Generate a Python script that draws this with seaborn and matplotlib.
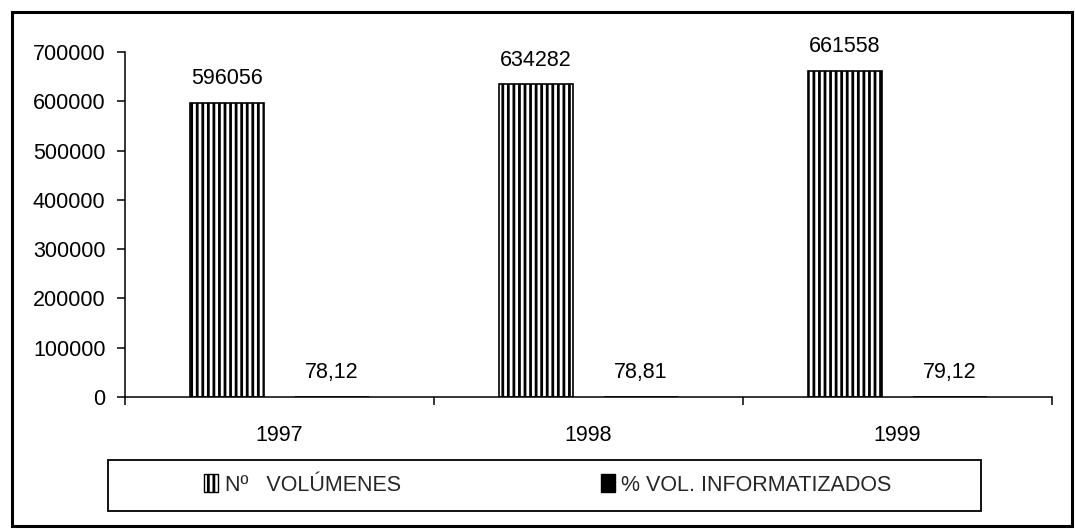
import pandas as pd
import matplotlib
matplotlib.use('Agg')
import matplotlib.pyplot as plt
import seaborn as sns
from matplotlib.patches import Patch, Rectangle

years = ['1997', '1998', '1999']
volumenes = [596056, 634282, 661558]
pct_informatizados = [78.12, 78.81, 79.12]
series_names = ['Nº   VOLÚMENES', '% VOL. INFORMATIZADOS']
y_ticks = [0, 100000, 200000, 300000, 400000, 500000, 600000, 700000]

df = pd.DataFrame({
    'year': years * 2,
    'value': volumenes + pct_informatizados,
    'series': [series_names[0]] * 3 + [series_names[1]] * 3,
})

sns.set_theme(style='white')
plt.rcParams['font.family'] = ['Liberation Sans', 'DejaVu Sans']
plt.rcParams['hatch.linewidth'] = 2.0
plt.rcParams['hatch.color'] = 'black'

FS = 15.5

fig = plt.figure(figsize=(10.76, 5.29), dpi=100)
ax = fig.add_axes([0.1162, 0.2495, 0.8615, 0.6522])

sns.barplot(data=df, x='year', y='value', hue='series', order=years,
            hue_order=series_names, palette=['white', 'black'],
            edgecolor='black', linewidth=1.2, width=0.68, gap=0.3,
            legend=False, ax=ax)

for p in ax.containers[0]:
    p.set_hatch('|||')

ax.bar_label(ax.containers[0], labels=[str(v) for v in volumenes],
             padding=10, fontsize=FS, color='black')
ax.bar_label(ax.containers[1],
             labels=[f'{v:.2f}'.replace('.', ',') for v in pct_informatizados],
             padding=10, fontsize=FS, color='black')

ax.set_ylim(0, 700000)
ax.set_xlim(-0.5, 2.5)
ax.set_yticks(y_ticks)
ax.set_yticklabels([str(t) for t in y_ticks])
ax.set_xlabel('')
ax.set_ylabel('')

ax.set_xticks([-0.5, 0.5, 1.5, 2.5], minor=True)
ax.tick_params(axis='x', which='major', length=0, pad=20, labelsize=FS, colors='black')
ax.tick_params(axis='x', which='minor', bottom=True, direction='out', length=6,
               width=1.1, color='black')
ax.tick_params(axis='y', which='major', left=True, direction='out', length=6,
               width=1.1, pad=8, labelsize=FS, colors='black')

sns.despine(ax=ax)
for s in ['left', 'bottom']:
    ax.spines[s].set_color('black')
    ax.spines[s].set_linewidth(1.1)

# outer chart frame
fig.patches.append(Rectangle((12 / 1076, 3 / 529), 1060 / 1076, 514 / 529,
                             transform=fig.transFigure, fill=False,
                             edgecolor='black', linewidth=2.2))
# legend frame
fig.patches.append(Rectangle((108 / 1076, 18 / 529), 873 / 1076, 51 / 529,
                             transform=fig.transFigure, fill=False,
                             edgecolor='black', linewidth=1.3))

handles = [Patch(facecolor='white', edgecolor='black', hatch='|||', linewidth=1.0),
           Patch(facecolor='black', edgecolor='black')]
fig.legend(handles, series_names, loc='center', ncol=2,
           bbox_to_anchor=(548 / 1076, 44 / 529), frameon=False, fontsize=FS,
           handlelength=0.65, handleheight=0.85, handletextpad=0.3,
           columnspacing=9.3)

fig.savefig('out.png', dpi=100, facecolor='white')
